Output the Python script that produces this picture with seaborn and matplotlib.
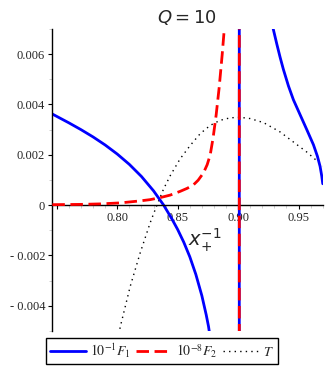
import numpy as np
import pandas as pd
import seaborn as sns
import matplotlib.pyplot as plt
from matplotlib.ticker import MultipleLocator, FuncFormatter

# curve points (x = 1/x_+)
f1_x = [0.7463, 0.760, 0.770, 0.780, 0.790, 0.800, 0.810, 0.820, 0.830, 0.8384, 0.845, 0.850,
        0.855, 0.860, 0.865, 0.870, 0.8736, 0.8755, 0.877, 0.885, 0.895, 0.9009, 0.9010, 0.915,
        0.9283, 0.9320, 0.9347, 0.9374, 0.9416, 0.9457, 0.9512, 0.9568, 0.9623, 0.9656, 0.9678, 0.9692, 0.9700]
f1_y = [0.00362, 0.00327, 0.0030, 0.00271, 0.00239, 0.00203, 0.00162, 0.00114, 0.00057, 0.0, -0.00053, -0.00097,
        -0.00147, -0.00205, -0.00275, -0.0036, -0.00436, -0.00482, -0.0053, -0.012, -0.03, -0.5, 0.5, 0.02,
        0.00715, 0.0064, 0.00588, 0.0054, 0.00474, 0.00419, 0.0036, 0.003, 0.0024, 0.00194, 0.00154, 0.00115, 0.00085]

f2_x = [0.7463, 0.7694, 0.7860, 0.8025, 0.8190, 0.8273, 0.8355, 0.8438, 0.8521, 0.8579, 0.8631,
        0.8669, 0.8713, 0.8744, 0.8769, 0.8793, 0.8818, 0.8843, 0.8868, 0.8887,
        0.893, 0.9009, 0.9010, 0.970]
f2_y = [0.00002, 0.00003, 0.00005, 0.00009, 0.00017, 0.00022, 0.0003, 0.0004, 0.00055, 0.00067, 0.00081,
        0.00099, 0.00128, 0.00161, 0.002, 0.00268, 0.00358, 0.00467, 0.00598, 0.00710,
        0.015, 0.5, -0.5, -0.5]

t_x = [0.798, 0.8025, 0.8107, 0.819, 0.8273, 0.8328, 0.8383, 0.8438, 0.852, 0.8603, 0.8686, 0.8769,
       0.885, 0.8934, 0.9017, 0.910, 0.921, 0.9347, 0.9457, 0.9568, 0.9664, 0.970]
t_y = [-0.0060, -0.00483, -0.00323, -0.00189, -0.00069, 0.0, 0.00064, 0.00117, 0.00184, 0.00237, 0.00284, 0.00317,
       0.00337, 0.00347, 0.00349, 0.00344, 0.00328, 0.00291, 0.00251, 0.00211, 0.00171, 0.00155]

labels = [r"$10^{-1}F_1$", r"$10^{-8}F_2$", r"$T$"]

sns.set_style("white")
plt.rcParams['font.family'] = ['Liberation Serif', 'DejaVu Serif']
plt.rcParams['mathtext.fontset'] = 'stix'

fig = plt.figure(figsize=(3.27, 3.73), dpi=100)
ax = fig.add_axes([0.159, 0.1126, 0.828, 0.8097])

sns.lineplot(x=f1_x, y=f1_y, ax=ax, color='#0000ff', lw=2, sort=False, estimator=None, label=labels[0], zorder=2)
sns.lineplot(x=f2_x, y=f2_y, ax=ax, color='#ff0000', lw=2, sort=False, estimator=None, label=labels[1], zorder=3)
ax.lines[-1].set_dashes((4.5, 2))
sns.lineplot(x=t_x, y=t_y, ax=ax, color='black', lw=1, sort=False, estimator=None, label=labels[2], zorder=1)
ax.lines[-1].set_dashes((1, 3))

ax.set_xlim(0.746, 0.970)
ax.set_ylim(-0.005, 0.007)

# maple style axes
ax.spines['top'].set_visible(False)
ax.spines['right'].set_visible(False)
ax.spines['bottom'].set_position(('data', 0))
for s in ['left', 'bottom']:
    ax.spines[s].set_linewidth(1)
    ax.spines[s].set_color('black')

ax.xaxis.set_major_locator(MultipleLocator(0.05))
ax.xaxis.set_minor_locator(MultipleLocator(0.01))
ax.yaxis.set_major_locator(MultipleLocator(0.002))
ax.yaxis.set_minor_locator(MultipleLocator(0.001))
ax.xaxis.set_major_formatter(FuncFormatter(lambda v, p: '' if v < 0.76 else f"{v:.2f}"))
ax.yaxis.set_major_formatter(FuncFormatter(lambda v, p: '0' if abs(v) < 1e-9 else f"{v:.3f}".replace('-', '- ')))
ax.tick_params(which='major', direction='out', length=3, width=0.8, color='black', labelsize=9, pad=2)
ax.tick_params(which='minor', direction='out', length=2, width=0.6, color='#c8c8c8')
ax.tick_params(axis='x', which='both', bottom=True)
ax.tick_params(axis='y', which='both', left=True)

ax.set_title(r"$Q = 10$", fontsize=13, family='DejaVu Sans', math_fontfamily='dejavusans', pad=4)
ax.text(0.565, 0.30, r"$x_{+}^{-1}$", transform=ax.transAxes, fontsize=14, ha='center', va='center',
        math_fontfamily='dejavusans')

ax.get_legend().remove()
handles, _ = ax.get_legend_handles_labels()
fig.legend(handles, labels, loc='center', bbox_to_anchor=(0.495, 0.059), ncol=3, frameon=True,
           fancybox=False, edgecolor='black', fontsize=10, handlelength=2.6, handletextpad=0.3,
           columnspacing=0.4, borderpad=0.25, framealpha=1).get_frame().set_linewidth(1)

fig.savefig('out.png', dpi=100)
